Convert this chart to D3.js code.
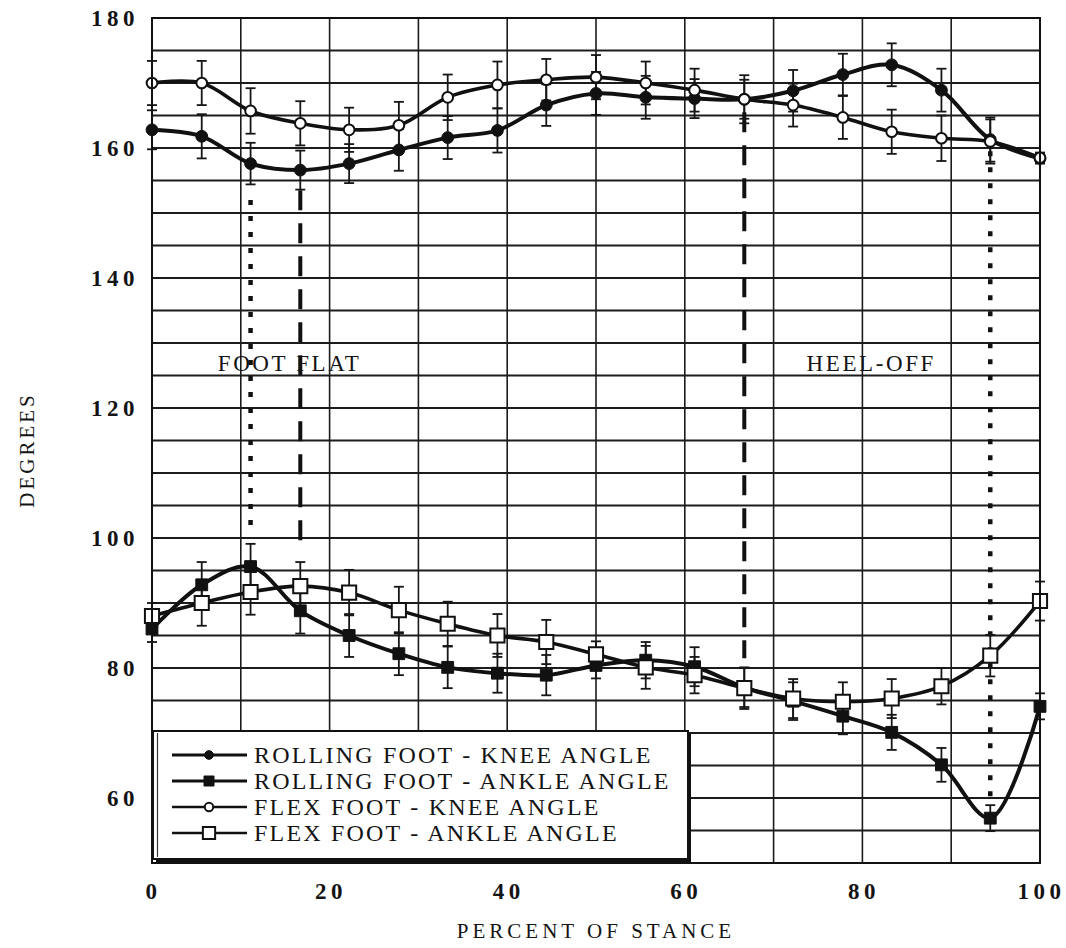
<!DOCTYPE html>
<html>
<head>
<meta charset="utf-8">
<script src="https://cdn.jsdelivr.net/npm/d3@7"></script>
<style>
  body { margin: 0; background: #fff; }
  svg text { font-family: "Liberation Serif", "Times New Roman", serif; fill: #141414; }
</style>
</head>
<body>
<svg id="chart" width="1066" height="948"></svg>
<script>
// values (percent of stance vs joint angle)
const stance = [0, 5.6, 11.1, 16.7, 22.2, 27.8, 33.3, 38.9, 44.4, 50, 55.6, 61.1, 66.7, 72.2, 77.8, 83.3, 88.9, 94.4, 100];

const rollingKnee    = [162.8, 161.8, 157.6, 156.6, 157.6, 159.7, 161.6, 162.7, 166.6, 168.4, 167.8, 167.6, 167.5, 168.8, 171.3, 172.8, 168.9, 161.3, 158.4];
const rollingKneeErr = [3, 3.4, 3.2, 3, 3, 3.2, 3.3, 3.4, 3.2, 3.3, 3.3, 3, 3, 3.2, 3.2, 3.3, 3.3, 3.4, 0.8];
const rollingAnkle    = [86, 92.8, 95.6, 88.8, 85, 82.2, 80.1, 79.2, 78.9, 80.4, 81.2, 80.2, 77, 74.9, 72.6, 70.1, 65.1, 56.9, 74.1];
const rollingAnkleErr = [2, 3.5, 3.5, 3.5, 3.3, 3.3, 3.2, 3, 3.1, 2, 2.8, 3, 3, 2.9, 2.8, 2.7, 2.6, 2, 2];
const flexKnee    = [170, 170, 165.7, 163.8, 162.8, 163.5, 167.8, 169.7, 170.5, 170.9, 170, 168.9, 167.5, 166.6, 164.7, 162.5, 161.5, 161, 158.5];
const flexKneeErr = [3.4, 3.4, 3.5, 3.4, 3.4, 3.6, 3.5, 3.6, 3.2, 3.4, 3.3, 3.3, 3.7, 3.3, 3.3, 3.4, 3.5, 3.4, 0.8];
const flexAnkle    = [88, 90, 91.7, 92.6, 91.6, 88.9, 86.8, 85, 84, 82.1, 80.1, 78.9, 76.9, 75.3, 74.8, 75.3, 77.2, 81.9, 90.3];
const flexAnkleErr = [2, 3.5, 3.5, 3.7, 3.5, 3.6, 3.4, 3.3, 3.4, 2, 3.3, 2.8, 3.2, 3, 3, 3, 2.8, 3.2, 3];

const seriesNames = ["ROLLING FOOT - KNEE ANGLE", "ROLLING FOOT - ANKLE ANGLE", "FLEX FOOT - KNEE ANGLE", "FLEX FOOT - ANKLE ANGLE"];

// gait events: stance % where they happen, and the angle span of the marker line
const phaseAt     = [11.1, 16.7, 66.7, 94.4];
const phaseTop    = [152, 153.5, 165.5, 159.5];
const phaseBottom = [101, 99.5, 81.5, 59.5];
const phaseLabels = ["FOOT FLAT", "HEEL-OFF"];
const phaseLabelAt = [15.5, 81];

const xTicks = [0, 20, 40, 60, 80, 100];
const yTicks = [60, 80, 100, 120, 140, 160, 180];

const width = 1066, height = 948;
const margin = { top: 18, right: 26, bottom: 85, left: 152 };

const svg = d3.select("#chart");

const x = d3.scaleLinear().domain([0, 100]).range([margin.left, width - margin.right]);
const y = d3.scaleLinear().domain([50, 180]).range([height - margin.bottom, margin.top]);

const series = [
  { vals: rollingKnee,  err: rollingKneeErr,  shape: d3.symbolCircle, size: 110, fill: "#111", lw: 4 },
  { vals: rollingAnkle, err: rollingAnkleErr, shape: d3.symbolSquare, size: 140, fill: "#111", lw: 4 },
  { vals: flexKnee,     err: flexKneeErr,     shape: d3.symbolCircle, size: 90,  fill: "#fff", lw: 3.6 },
  { vals: flexAnkle,    err: flexAnkleErr,    shape: d3.symbolSquare, size: 200, fill: "#fff", lw: 3.6 }
];

// grid
const grid = svg.append("g").attr("stroke", "#1c1c1c");
grid.selectAll("line.h")
  .data(d3.range(50, 181, 5))
  .join("line")
  .attr("x1", x(0)).attr("x2", x(100))
  .attr("y1", d => y(d)).attr("y2", d => y(d))
  .attr("stroke-width", 1.9);
grid.selectAll("line.v")
  .data(d3.range(0, 101, 10))
  .join("line")
  .attr("y1", y(50)).attr("y2", y(180))
  .attr("x1", d => x(d)).attr("x2", d => x(d))
  .attr("stroke-width", 1.6);

// event marker lines (dotted / dashed)
svg.append("g").selectAll("line")
  .data(phaseAt)
  .join("line")
  .attr("x1", d => x(d)).attr("x2", d => x(d))
  .attr("y1", (d, i) => y(phaseTop[i]))
  .attr("y2", (d, i) => y(phaseBottom[i]))
  .attr("stroke", "#111")
  .attr("stroke-width", (d, i) => (i === 0 || i === 3) ? 4.5 : 4)
  .attr("stroke-dasharray", (d, i) => (i === 0 || i === 3) ? "5 11" : "20 13");

// error bars
series.forEach(s => {
  const g = svg.append("g").attr("stroke", "#161616").attr("stroke-width", 1.8);
  s.vals.forEach((v, i) => {
    const e = s.err[i];
    const cx = x(stance[i]);
    g.append("line").attr("x1", cx).attr("x2", cx).attr("y1", y(v + e)).attr("y2", y(v - e));
    g.append("line").attr("x1", cx - 5).attr("x2", cx + 5).attr("y1", y(v + e)).attr("y2", y(v + e));
    g.append("line").attr("x1", cx - 5).attr("x2", cx + 5).attr("y1", y(v - e)).attr("y2", y(v - e));
  });
});

// smooth curves
const line = d3.line()
  .x((d, i) => x(stance[i]))
  .y(d => y(d))
  .curve(d3.curveCatmullRom.alpha(0.5));

series.forEach(s => {
  svg.append("path")
    .attr("d", line(s.vals))
    .attr("fill", "none")
    .attr("stroke", "#111")
    .attr("stroke-width", s.lw)
    .attr("stroke-linejoin", "round");
});

// markers
series.forEach(s => {
  svg.append("g").selectAll("path")
    .data(s.vals)
    .join("path")
    .attr("transform", (d, i) => `translate(${x(stance[i])},${y(d)})`)
    .attr("d", d3.symbol().type(s.shape).size(s.size))
    .attr("fill", s.fill)
    .attr("stroke", "#111")
    .attr("stroke-width", s.fill === "#fff" ? 2 : 1);
});

// frame
svg.append("rect")
  .attr("x", x(0)).attr("y", y(180))
  .attr("width", x(100) - x(0)).attr("height", y(50) - y(180))
  .attr("fill", "none").attr("stroke", "#111").attr("stroke-width", 2);

// event labels
svg.append("g").selectAll("text")
  .data(phaseLabels)
  .join("text")
  .attr("x", (d, i) => x(phaseLabelAt[i]))
  .attr("y", y(127))
  .attr("dy", "0.35em")
  .attr("text-anchor", "middle")
  .style("font-size", "23px")
  .style("letter-spacing", "2.6px")
  .text(d => d);

// axes
const yAxis = svg.append("g")
  .attr("transform", `translate(${x(0)},0)`)
  .call(d3.axisLeft(y).tickValues(yTicks).tickSize(0).tickPadding(13).tickFormat(d => d));
const xAxis = svg.append("g")
  .attr("transform", `translate(0,${y(50)})`)
  .call(d3.axisBottom(x).tickValues(xTicks).tickSize(0).tickPadding(20).tickFormat(d => d));
[yAxis, xAxis].forEach(a => {
  a.select(".domain").remove();
  a.selectAll("text")
    .style("font-family", "'Liberation Serif', serif")
    .style("font-size", "23px")
    .style("font-weight", "bold")
    .style("letter-spacing", "4.5px")
    .attr("fill", "#141414");
});
xAxis.selectAll("text").attr("dx", "1px");

svg.append("text")
  .attr("transform", "translate(34,450) rotate(-90)")
  .attr("text-anchor", "middle")
  .style("font-size", "21px")
  .style("letter-spacing", "3px")
  .text("DEGREES");

svg.append("text")
  .attr("x", (x(0) + x(100)) / 2)
  .attr("y", 938)
  .attr("text-anchor", "middle")
  .style("font-size", "21px")
  .style("letter-spacing", "4px")
  .text("PERCENT OF STANCE");

// legend box
const lg = svg.append("g");
lg.append("rect")
  .attr("x", 153).attr("y", 731).attr("width", 535).attr("height", 128)
  .attr("fill", "#fff").attr("stroke", "#111").attr("stroke-width", 2);
lg.append("line").attr("x1", 157.5).attr("x2", 157.5).attr("y1", 733).attr("y2", 857)
  .attr("stroke", "#333").attr("stroke-width", 1.2);
lg.append("line").attr("x1", 689).attr("x2", 689).attr("y1", 734).attr("y2", 862)
  .attr("stroke", "#111").attr("stroke-width", 4);
lg.append("line").attr("x1", 156).attr("x2", 691).attr("y1", 860).attr("y2", 860)
  .attr("stroke", "#111").attr("stroke-width", 4);

const legendSymbolSize = [60, 100, 55, 150];
seriesNames.forEach((name, i) => {
  const s = series[i];
  const ry = 755 + i * 26;
  lg.append("line")
    .attr("x1", 172).attr("x2", 247).attr("y1", ry).attr("y2", ry)
    .attr("stroke", "#111").attr("stroke-width", i < 2 ? 3.2 : 2.4);
  lg.append("path")
    .attr("transform", `translate(209,${ry})`)
    .attr("d", d3.symbol().type(s.shape).size(legendSymbolSize[i]))
    .attr("fill", s.fill).attr("stroke", "#111").attr("stroke-width", s.fill === "#fff" ? 2 : 1);
  lg.append("text")
    .attr("x", 254).attr("y", ry).attr("dy", "0.34em")
    .style("font-size", "24px")
    .style("letter-spacing", "2.2px")
    .text(name);
});
</script>
</body>
</html>
